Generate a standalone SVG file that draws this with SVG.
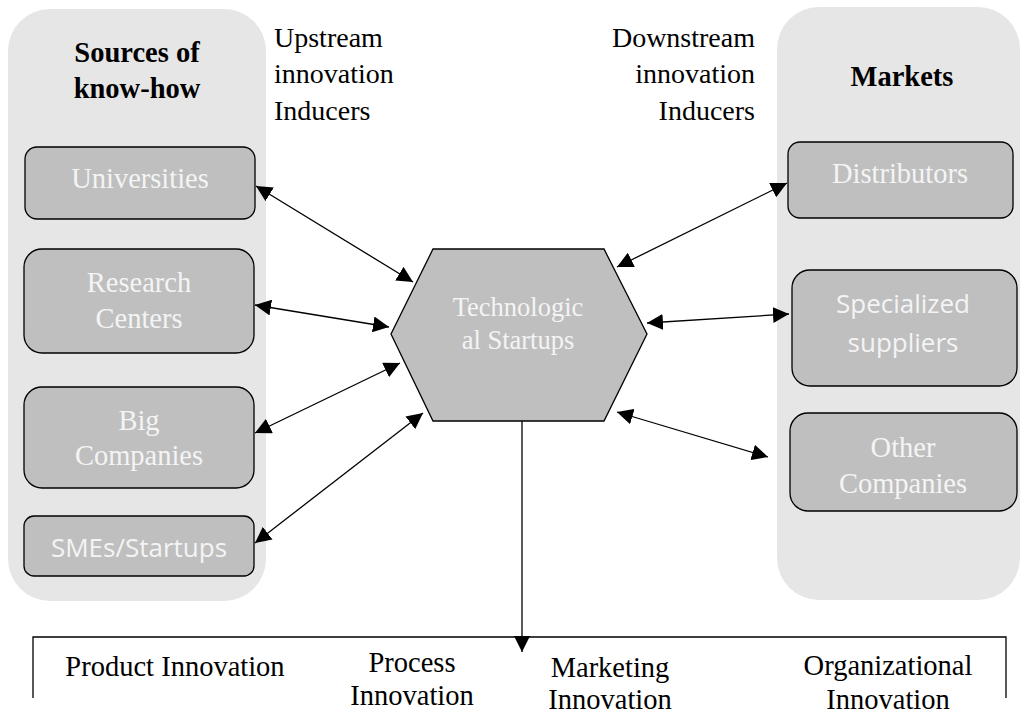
<svg xmlns="http://www.w3.org/2000/svg" width="1023" height="713" viewBox="0 0 1023 713">
  <style>
    .panel { fill: #e6e6e6; }
    .box { fill: #bfbfbf; stroke: #000; stroke-width: 1.3; }
    .serif { font-family: "Liberation Serif", "Times New Roman", serif; }
    .sans { font-family: "Open Sans", "Liberation Sans", sans-serif; }
    .lbl { fill: #f4f4f4; font-size: 28.5px; text-anchor: middle; }
    .sans.lbl { font-size: 26px; }
    .hex { font-size: 26.5px; }
    .head { fill: #000; font-size: 28.5px; font-weight: bold; text-anchor: middle; }
    .note { fill: #000; font-size: 28px; }
    .bottom { fill: #000; font-size: 28.5px; text-anchor: middle; }
    .conn { stroke: #000; stroke-width: 1.3; fill: none; }
  </style>
  <defs>
    <marker id="arrowBig" viewBox="0 0 10 10" refX="10" refY="5" markerWidth="16" markerHeight="16" markerUnits="userSpaceOnUse" orient="auto-start-reverse">
      <path d="M0,0 L10,5 L0,10 z" fill="#000"/>
    </marker>
  </defs>

  <!-- background panels -->
  <rect class="panel" x="8" y="9" width="258" height="592" rx="42"/>
  <rect class="panel" x="777" y="7" width="243" height="593" rx="42"/>

  <!-- panel headings and side notes -->
  <g id="sources-heading">
    <text class="serif head" x="137" y="62">Sources of</text>
    <text class="serif head" x="137" y="98">know-how</text>
  </g>
  <g id="markets-heading">
    <text class="serif head" x="902" y="86">Markets</text>
  </g>
  <g id="upstream-note">
    <text class="serif note" x="274" y="47">Upstream</text>
    <text class="serif note" x="274" y="83">innovation</text>
    <text class="serif note" x="274" y="120">Inducers</text>
  </g>
  <g id="downstream-note">
    <text class="serif note" x="755" y="47" text-anchor="end">Downstream</text>
    <text class="serif note" x="755" y="83" text-anchor="end">innovation</text>
    <text class="serif note" x="755" y="120" text-anchor="end">Inducers</text>
  </g>

  <!-- left column: sources of know-how -->
  <g id="universities">
    <rect class="box" x="25" y="147" width="230" height="72" rx="12"/>
    <text class="serif lbl" x="140" y="188">Universities</text>
  </g>
  <g id="research-centers">
    <rect class="box" x="24" y="249" width="230" height="104" rx="18"/>
    <text class="serif lbl" x="139" y="292">Research</text>
    <text class="serif lbl" x="139" y="328">Centers</text>
  </g>
  <g id="big-companies">
    <rect class="box" x="24" y="387" width="230" height="101" rx="18"/>
    <text class="serif lbl" x="139" y="430">Big</text>
    <text class="serif lbl" x="139" y="465">Companies</text>
  </g>
  <g id="smes-startups">
    <rect class="box" x="24" y="516" width="230" height="60" rx="10"/>
    <text class="sans lbl" x="139" y="557">SMEs/Startups</text>
  </g>

  <!-- right column: markets -->
  <g id="distributors">
    <rect class="box" x="788" y="142" width="225" height="76" rx="12"/>
    <text class="serif lbl" x="900" y="183">Distributors</text>
  </g>
  <g id="specialized-suppliers">
    <rect class="box" x="792" y="270" width="225" height="116" rx="18"/>
    <text class="sans lbl" x="903" y="313">Specialized</text>
    <text class="sans lbl" x="903" y="352">suppliers</text>
  </g>
  <g id="other-companies">
    <rect class="box" x="790" y="413" width="227" height="98" rx="18"/>
    <text class="serif lbl" x="903" y="457">Other</text>
    <text class="serif lbl" x="903" y="493">Companies</text>
  </g>

  <!-- central hexagon -->
  <g id="technological-startups">
    <polygon class="box" points="433,249 604,249 647,334 604,421 433,421 391,334"/>
    <text class="serif lbl hex" x="518" y="316">Technologic</text>
    <text class="serif lbl hex" x="518" y="349">al Startups</text>
  </g>

  <!-- innovation outcomes bracket -->
  <g id="innovation-types">
    <path class="conn" d="M33,698 V637 H1006 V698"/>
    <text class="serif bottom" x="175" y="676">Product Innovation</text>
    <text class="serif bottom" x="412" y="672">Process</text>
    <text class="serif bottom" x="412" y="705">Innovation</text>
    <text class="serif bottom" x="610" y="677">Marketing</text>
    <text class="serif bottom" x="610" y="709">Innovation</text>
    <text class="serif bottom" x="888" y="675">Organizational</text>
    <text class="serif bottom" x="888" y="709">Innovation</text>
  </g>

  <!-- connectors -->
  <g id="connectors">
    <line class="conn" x1="256" y1="186" x2="413" y2="282" marker-start="url(#arrowBig)" marker-end="url(#arrowBig)"/>
    <line class="conn" x1="255" y1="305" x2="389" y2="327" marker-start="url(#arrowBig)" marker-end="url(#arrowBig)"/>
    <line class="conn" x1="255" y1="433" x2="400" y2="363" marker-start="url(#arrowBig)" marker-end="url(#arrowBig)"/>
    <line class="conn" x1="255" y1="543" x2="423" y2="413" marker-start="url(#arrowBig)" marker-end="url(#arrowBig)"/>
    <line class="conn" x1="617" y1="267" x2="787" y2="183" marker-start="url(#arrowBig)" marker-end="url(#arrowBig)"/>
    <line class="conn" x1="647" y1="323" x2="789" y2="314" marker-start="url(#arrowBig)" marker-end="url(#arrowBig)"/>
    <line class="conn" x1="617" y1="412" x2="768" y2="457" marker-start="url(#arrowBig)" marker-end="url(#arrowBig)"/>
    <line class="conn" x1="522" y1="421" x2="522" y2="652" stroke-width="2.2" marker-end="url(#arrowBig)"/>
  </g>
</svg>
